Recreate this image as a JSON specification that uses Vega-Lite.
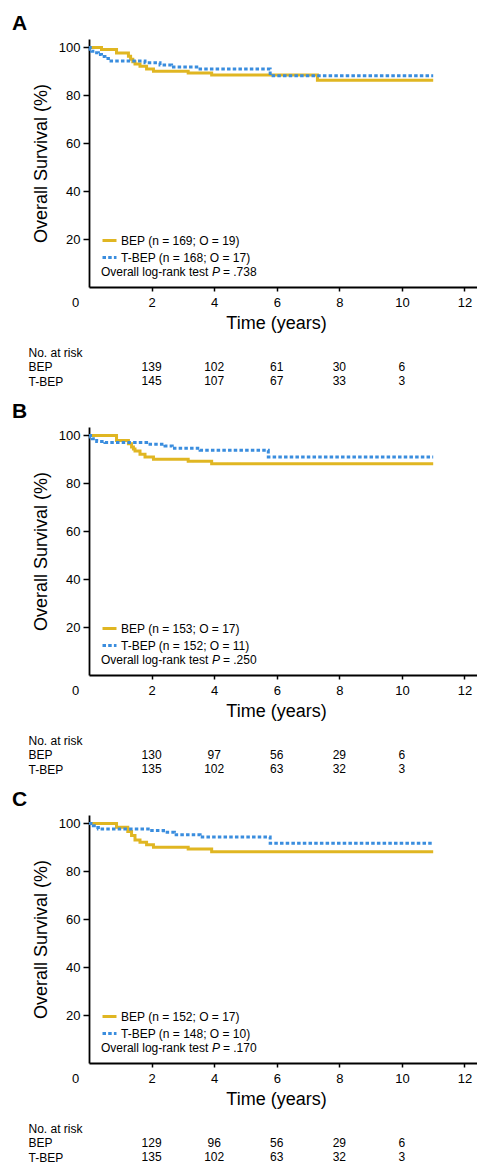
{
  "$schema": "https://vega.github.io/schema/vega-lite/v6.json",
  "padding": {"left": 12, "top": 13, "right": 0, "bottom": 0},
  "background": "white",
  "bounds": "flush",
  "spacing": 46,
  "resolve": {"scale": {"x": "independent", "y": "independent", "color": "independent", "strokeDash": "independent"}},
  "config": {
    "view": {"stroke": null},
    "font": "Liberation Sans",
    "axis": {"domainColor": "black", "tickColor": "black", "labelColor": "black", "titleColor": "black", "grid": false, "labelFont": "Liberation Sans", "titleFont": "Liberation Sans", "titleFontWeight": "normal", "domainWidth": 1.8, "tickWidth": 1.5},
    "legend": {"orient": "none", "legendX": 12, "legendY": 193, "symbolType": "stroke", "symbolSize": 196, "symbolStrokeWidth": 3, "labelFontSize": 12, "labelFont": "Liberation Sans", "labelColor": "black", "padding": 0, "rowPadding": 2, "labelOffset": 3},
    "title": {"font": "Liberation Sans", "color": "black"}
  },
  "vconcat": [
    {
      "width": 388, "height": 248,
      "title": {"text": "A", "anchor": "start", "frame": "group", "dx": -77, "dy": 22, "offset": 10, "baseline": "alphabetic", "fontSize": 21, "fontWeight": "bold"},
      "layer": [
        {
          "data": {"values": [
            {"group": "BEP (n = 169; O = 19)", "t": 0, "s": 100},
            {"group": "BEP (n = 169; O = 19)", "t": 0.40, "s": 99.1},
            {"group": "BEP (n = 169; O = 19)", "t": 0.88, "s": 97.7},
            {"group": "BEP (n = 169; O = 19)", "t": 1.26, "s": 96.3},
            {"group": "BEP (n = 169; O = 19)", "t": 1.33, "s": 95.0},
            {"group": "BEP (n = 169; O = 19)", "t": 1.40, "s": 94.0},
            {"group": "BEP (n = 169; O = 19)", "t": 1.47, "s": 93.1},
            {"group": "BEP (n = 169; O = 19)", "t": 1.63, "s": 92.1},
            {"group": "BEP (n = 169; O = 19)", "t": 1.84, "s": 91.0},
            {"group": "BEP (n = 169; O = 19)", "t": 2.06, "s": 90.0},
            {"group": "BEP (n = 169; O = 19)", "t": 3.17, "s": 89.3},
            {"group": "BEP (n = 169; O = 19)", "t": 3.92, "s": 88.5},
            {"group": "BEP (n = 169; O = 19)", "t": 7.30, "s": 86.3},
            {"group": "BEP (n = 169; O = 19)", "t": 11.0, "s": 86.3},
            {"group": "T-BEP (n = 168; O = 17)", "t": 0, "s": 100},
            {"group": "T-BEP (n = 168; O = 17)", "t": 0.04, "s": 99.2},
            {"group": "T-BEP (n = 168; O = 17)", "t": 0.085, "s": 98.4},
            {"group": "T-BEP (n = 168; O = 17)", "t": 0.18, "s": 97.8},
            {"group": "T-BEP (n = 168; O = 17)", "t": 0.30, "s": 97.0},
            {"group": "T-BEP (n = 168; O = 17)", "t": 0.40, "s": 96.2},
            {"group": "T-BEP (n = 168; O = 17)", "t": 0.51, "s": 95.4},
            {"group": "T-BEP (n = 168; O = 17)", "t": 0.62, "s": 94.3},
            {"group": "T-BEP (n = 168; O = 17)", "t": 1.79, "s": 93.6},
            {"group": "T-BEP (n = 168; O = 17)", "t": 2.27, "s": 92.65},
            {"group": "T-BEP (n = 168; O = 17)", "t": 2.64, "s": 91.8},
            {"group": "T-BEP (n = 168; O = 17)", "t": 3.55, "s": 91.0},
            {"group": "T-BEP (n = 168; O = 17)", "t": 5.79, "s": 88.2},
            {"group": "T-BEP (n = 168; O = 17)", "t": 11.0, "s": 88.2}
          ]},
          "mark": {"type": "line", "interpolate": "step-after", "strokeWidth": 3, "strokeCap": "butt", "strokeJoin": "miter"},
          "encoding": {
            "x": {"field": "t", "type": "quantitative", "scale": {"domain": [0, 12.4], "nice": false, "zero": false},
                  "axis": {"values": [0, 2, 4, 6, 8, 10, 12], "title": "Time (years)", "titleFontSize": 18, "titlePadding": 5, "titleX": 187, "labelFontSize": 13, "tickSize": 4, "labelPadding": 5, "labelFlush": false, "labelOverlap": false,
                           "labelOffset": {"condition": {"test": "datum.value === 0", "value": -14}, "value": 0},
                           "tickOpacity": {"condition": {"test": "datum.value === 0", "value": 0}, "value": 1}}},
            "y": {"field": "s", "type": "quantitative", "scale": {"domain": [0, 103.5], "nice": false},
                  "axis": {"values": [20, 40, 60, 80, 100], "title": "Overall Survival (%)", "titleFontSize": 18, "titlePadding": 8, "labelFontSize": 13, "tickSize": 6, "labelPadding": 3}},
            "color": {"field": "group", "type": "nominal", "scale": {"range": ["#E0B622", "#3A8DDE"]}, "legend": {"title": null}},
            "strokeDash": {"field": "group", "type": "nominal", "scale": {"range": [[1, 0], [3.5, 2.2]]}, "legend": {"title": null}}
          }
        },
        {
          "data": {"values": [{"test": "Overall log-rank test", "p": "= .738"}]},
          "mark": {"type": "text", "align": "left", "baseline": "middle", "fontSize": 12, "color": "black"},
          "encoding": {"x": {"datum": 0.38}, "y": {"datum": 6.4}, "text": {"field": "test"}}
        },
        {
          "data": {"values": [{"test": "Overall log-rank test", "p": "= .738"}]},
          "mark": {"type": "text", "align": "left", "baseline": "middle", "fontSize": 12, "fontStyle": "italic", "dx": 111, "color": "black"},
          "encoding": {"x": {"datum": 0.38}, "y": {"datum": 6.4}, "text": {"value": "P"}}
        },
        {
          "data": {"values": [{"test": "Overall log-rank test", "p": "= .738"}]},
          "mark": {"type": "text", "align": "left", "baseline": "middle", "fontSize": 12, "dx": 122, "color": "black"},
          "encoding": {"x": {"datum": 0.38}, "y": {"datum": 6.4}, "text": {"field": "p"}}
        }
      ]
    },
    {
      "width": 388, "height": 48,
      "data": {"values": [
        {"arm": "BEP", "t": 2, "n": 139}, {"arm": "BEP", "t": 4, "n": 102}, {"arm": "BEP", "t": 6, "n": 61}, {"arm": "BEP", "t": 8, "n": 30}, {"arm": "BEP", "t": 10, "n": 6},
        {"arm": "T-BEP", "t": 2, "n": 145}, {"arm": "T-BEP", "t": 4, "n": 107}, {"arm": "T-BEP", "t": 6, "n": 67}, {"arm": "T-BEP", "t": 8, "n": 33}, {"arm": "T-BEP", "t": 10, "n": 3}
      ]},
      "mark": {"type": "text", "fontSize": 12, "baseline": "middle", "align": "center", "color": "black"},
      "encoding": {
        "x": {"field": "t", "type": "quantitative", "scale": {"domain": [0, 12.4], "nice": false, "zero": false}, "axis": null},
        "y": {"field": "arm", "type": "ordinal", "scale": {"domain": ["No. at risk", "BEP", "T-BEP"], "range": [19, 48], "padding": 0},
              "axis": {"title": null, "domain": false, "ticks": false, "tickSize": 0, "labelAlign": "left", "labelBaseline": "middle", "labelPadding": 61, "labelFontSize": 12}},
        "text": {"field": "n", "type": "quantitative"}
      }
    },
    {
      "width": 388, "height": 248,
      "title": {"text": "B", "anchor": "start", "frame": "group", "dx": -77, "dy": 22, "offset": 10, "baseline": "alphabetic", "fontSize": 21, "fontWeight": "bold"},
      "layer": [
        {
          "data": {"values": [
            {"group": "BEP (n = 153; O = 17)", "t": 0, "s": 100},
            {"group": "BEP (n = 153; O = 17)", "t": 0.88, "s": 97.9},
            {"group": "BEP (n = 153; O = 17)", "t": 1.26, "s": 96.5},
            {"group": "BEP (n = 153; O = 17)", "t": 1.36, "s": 95.2},
            {"group": "BEP (n = 153; O = 17)", "t": 1.42, "s": 94.3},
            {"group": "BEP (n = 153; O = 17)", "t": 1.47, "s": 93.5},
            {"group": "BEP (n = 153; O = 17)", "t": 1.63, "s": 92.1},
            {"group": "BEP (n = 153; O = 17)", "t": 1.79, "s": 91.0},
            {"group": "BEP (n = 153; O = 17)", "t": 2.06, "s": 90.0},
            {"group": "BEP (n = 153; O = 17)", "t": 3.17, "s": 89.2},
            {"group": "BEP (n = 153; O = 17)", "t": 3.92, "s": 88.2},
            {"group": "BEP (n = 153; O = 17)", "t": 11.0, "s": 88.2},
            {"group": "T-BEP (n = 152; O = 11)", "t": 0, "s": 100},
            {"group": "T-BEP (n = 152; O = 11)", "t": 0.05, "s": 99.3},
            {"group": "T-BEP (n = 152; O = 11)", "t": 0.106, "s": 98.6},
            {"group": "T-BEP (n = 152; O = 11)", "t": 0.245, "s": 97.5},
            {"group": "T-BEP (n = 152; O = 11)", "t": 0.51, "s": 97.0},
            {"group": "T-BEP (n = 152; O = 11)", "t": 1.84, "s": 96.3},
            {"group": "T-BEP (n = 152; O = 11)", "t": 2.43, "s": 95.6},
            {"group": "T-BEP (n = 152; O = 11)", "t": 2.66, "s": 94.6},
            {"group": "T-BEP (n = 152; O = 11)", "t": 3.55, "s": 93.8},
            {"group": "T-BEP (n = 152; O = 11)", "t": 5.73, "s": 91.0},
            {"group": "T-BEP (n = 152; O = 11)", "t": 11.0, "s": 91.0}
          ]},
          "mark": {"type": "line", "interpolate": "step-after", "strokeWidth": 3, "strokeCap": "butt", "strokeJoin": "miter"},
          "encoding": {
            "x": {"field": "t", "type": "quantitative", "scale": {"domain": [0, 12.4], "nice": false, "zero": false},
                  "axis": {"values": [0, 2, 4, 6, 8, 10, 12], "title": "Time (years)", "titleFontSize": 18, "titlePadding": 5, "titleX": 187, "labelFontSize": 13, "tickSize": 4, "labelPadding": 5, "labelFlush": false, "labelOverlap": false,
                           "labelOffset": {"condition": {"test": "datum.value === 0", "value": -14}, "value": 0},
                           "tickOpacity": {"condition": {"test": "datum.value === 0", "value": 0}, "value": 1}}},
            "y": {"field": "s", "type": "quantitative", "scale": {"domain": [0, 103.5], "nice": false},
                  "axis": {"values": [20, 40, 60, 80, 100], "title": "Overall Survival (%)", "titleFontSize": 18, "titlePadding": 8, "labelFontSize": 13, "tickSize": 6, "labelPadding": 3}},
            "color": {"field": "group", "type": "nominal", "scale": {"range": ["#E0B622", "#3A8DDE"]}, "legend": {"title": null}},
            "strokeDash": {"field": "group", "type": "nominal", "scale": {"range": [[1, 0], [3.5, 2.2]]}, "legend": {"title": null}}
          }
        },
        {
          "data": {"values": [{"test": "Overall log-rank test", "p": "= .250"}]},
          "mark": {"type": "text", "align": "left", "baseline": "middle", "fontSize": 12, "color": "black"},
          "encoding": {"x": {"datum": 0.38}, "y": {"datum": 6.4}, "text": {"field": "test"}}
        },
        {
          "data": {"values": [{"test": "Overall log-rank test", "p": "= .250"}]},
          "mark": {"type": "text", "align": "left", "baseline": "middle", "fontSize": 12, "fontStyle": "italic", "dx": 111, "color": "black"},
          "encoding": {"x": {"datum": 0.38}, "y": {"datum": 6.4}, "text": {"value": "P"}}
        },
        {
          "data": {"values": [{"test": "Overall log-rank test", "p": "= .250"}]},
          "mark": {"type": "text", "align": "left", "baseline": "middle", "fontSize": 12, "dx": 122, "color": "black"},
          "encoding": {"x": {"datum": 0.38}, "y": {"datum": 6.4}, "text": {"field": "p"}}
        }
      ]
    },
    {
      "width": 388, "height": 48,
      "data": {"values": [
        {"arm": "BEP", "t": 2, "n": 130}, {"arm": "BEP", "t": 4, "n": 97}, {"arm": "BEP", "t": 6, "n": 56}, {"arm": "BEP", "t": 8, "n": 29}, {"arm": "BEP", "t": 10, "n": 6},
        {"arm": "T-BEP", "t": 2, "n": 135}, {"arm": "T-BEP", "t": 4, "n": 102}, {"arm": "T-BEP", "t": 6, "n": 63}, {"arm": "T-BEP", "t": 8, "n": 32}, {"arm": "T-BEP", "t": 10, "n": 3}
      ]},
      "mark": {"type": "text", "fontSize": 12, "baseline": "middle", "align": "center", "color": "black"},
      "encoding": {
        "x": {"field": "t", "type": "quantitative", "scale": {"domain": [0, 12.4], "nice": false, "zero": false}, "axis": null},
        "y": {"field": "arm", "type": "ordinal", "scale": {"domain": ["No. at risk", "BEP", "T-BEP"], "range": [19, 48], "padding": 0},
              "axis": {"title": null, "domain": false, "ticks": false, "tickSize": 0, "labelAlign": "left", "labelBaseline": "middle", "labelPadding": 61, "labelFontSize": 12}},
        "text": {"field": "n", "type": "quantitative"}
      }
    },
    {
      "width": 388, "height": 248,
      "title": {"text": "C", "anchor": "start", "frame": "group", "dx": -77, "dy": 22, "offset": 10, "baseline": "alphabetic", "fontSize": 21, "fontWeight": "bold"},
      "layer": [
        {
          "data": {"values": [
            {"group": "BEP (n = 152; O = 17)", "t": 0, "s": 100},
            {"group": "BEP (n = 152; O = 17)", "t": 0.88, "s": 98.4},
            {"group": "BEP (n = 152; O = 17)", "t": 1.24, "s": 96.6},
            {"group": "BEP (n = 152; O = 17)", "t": 1.36, "s": 94.9},
            {"group": "BEP (n = 152; O = 17)", "t": 1.47, "s": 93.1},
            {"group": "BEP (n = 152; O = 17)", "t": 1.63, "s": 92.1},
            {"group": "BEP (n = 152; O = 17)", "t": 1.84, "s": 91.1},
            {"group": "BEP (n = 152; O = 17)", "t": 2.06, "s": 90.0},
            {"group": "BEP (n = 152; O = 17)", "t": 3.17, "s": 89.3},
            {"group": "BEP (n = 152; O = 17)", "t": 3.92, "s": 88.2},
            {"group": "BEP (n = 152; O = 17)", "t": 11.0, "s": 88.2},
            {"group": "T-BEP (n = 148; O = 10)", "t": 0, "s": 100},
            {"group": "T-BEP (n = 148; O = 10)", "t": 0.138, "s": 99.0},
            {"group": "T-BEP (n = 148; O = 10)", "t": 0.22, "s": 98.3},
            {"group": "T-BEP (n = 148; O = 10)", "t": 0.30, "s": 97.7},
            {"group": "T-BEP (n = 148; O = 10)", "t": 1.95, "s": 97.0},
            {"group": "T-BEP (n = 148; O = 10)", "t": 2.38, "s": 96.3},
            {"group": "T-BEP (n = 148; O = 10)", "t": 2.73, "s": 95.3},
            {"group": "T-BEP (n = 148; O = 10)", "t": 3.55, "s": 94.3},
            {"group": "T-BEP (n = 148; O = 10)", "t": 5.79, "s": 91.7},
            {"group": "T-BEP (n = 148; O = 10)", "t": 11.0, "s": 91.7}
          ]},
          "mark": {"type": "line", "interpolate": "step-after", "strokeWidth": 3, "strokeCap": "butt", "strokeJoin": "miter"},
          "encoding": {
            "x": {"field": "t", "type": "quantitative", "scale": {"domain": [0, 12.4], "nice": false, "zero": false},
                  "axis": {"values": [0, 2, 4, 6, 8, 10, 12], "title": "Time (years)", "titleFontSize": 18, "titlePadding": 5, "titleX": 187, "labelFontSize": 13, "tickSize": 4, "labelPadding": 5, "labelFlush": false, "labelOverlap": false,
                           "labelOffset": {"condition": {"test": "datum.value === 0", "value": -14}, "value": 0},
                           "tickOpacity": {"condition": {"test": "datum.value === 0", "value": 0}, "value": 1}}},
            "y": {"field": "s", "type": "quantitative", "scale": {"domain": [0, 103.5], "nice": false},
                  "axis": {"values": [20, 40, 60, 80, 100], "title": "Overall Survival (%)", "titleFontSize": 18, "titlePadding": 8, "labelFontSize": 13, "tickSize": 6, "labelPadding": 3}},
            "color": {"field": "group", "type": "nominal", "scale": {"range": ["#E0B622", "#3A8DDE"]}, "legend": {"title": null}},
            "strokeDash": {"field": "group", "type": "nominal", "scale": {"range": [[1, 0], [3.5, 2.2]]}, "legend": {"title": null}}
          }
        },
        {
          "data": {"values": [{"test": "Overall log-rank test", "p": "= .170"}]},
          "mark": {"type": "text", "align": "left", "baseline": "middle", "fontSize": 12, "color": "black"},
          "encoding": {"x": {"datum": 0.38}, "y": {"datum": 6.4}, "text": {"field": "test"}}
        },
        {
          "data": {"values": [{"test": "Overall log-rank test", "p": "= .170"}]},
          "mark": {"type": "text", "align": "left", "baseline": "middle", "fontSize": 12, "fontStyle": "italic", "dx": 111, "color": "black"},
          "encoding": {"x": {"datum": 0.38}, "y": {"datum": 6.4}, "text": {"value": "P"}}
        },
        {
          "data": {"values": [{"test": "Overall log-rank test", "p": "= .170"}]},
          "mark": {"type": "text", "align": "left", "baseline": "middle", "fontSize": 12, "dx": 122, "color": "black"},
          "encoding": {"x": {"datum": 0.38}, "y": {"datum": 6.4}, "text": {"field": "p"}}
        }
      ]
    },
    {
      "width": 388, "height": 48,
      "data": {"values": [
        {"arm": "BEP", "t": 2, "n": 129}, {"arm": "BEP", "t": 4, "n": 96}, {"arm": "BEP", "t": 6, "n": 56}, {"arm": "BEP", "t": 8, "n": 29}, {"arm": "BEP", "t": 10, "n": 6},
        {"arm": "T-BEP", "t": 2, "n": 135}, {"arm": "T-BEP", "t": 4, "n": 102}, {"arm": "T-BEP", "t": 6, "n": 63}, {"arm": "T-BEP", "t": 8, "n": 32}, {"arm": "T-BEP", "t": 10, "n": 3}
      ]},
      "mark": {"type": "text", "fontSize": 12, "baseline": "middle", "align": "center", "color": "black"},
      "encoding": {
        "x": {"field": "t", "type": "quantitative", "scale": {"domain": [0, 12.4], "nice": false, "zero": false}, "axis": null},
        "y": {"field": "arm", "type": "ordinal", "scale": {"domain": ["No. at risk", "BEP", "T-BEP"], "range": [19, 48], "padding": 0},
              "axis": {"title": null, "domain": false, "ticks": false, "tickSize": 0, "labelAlign": "left", "labelBaseline": "middle", "labelPadding": 61, "labelFontSize": 12}},
        "text": {"field": "n", "type": "quantitative"}
      }
    }
  ]
}
